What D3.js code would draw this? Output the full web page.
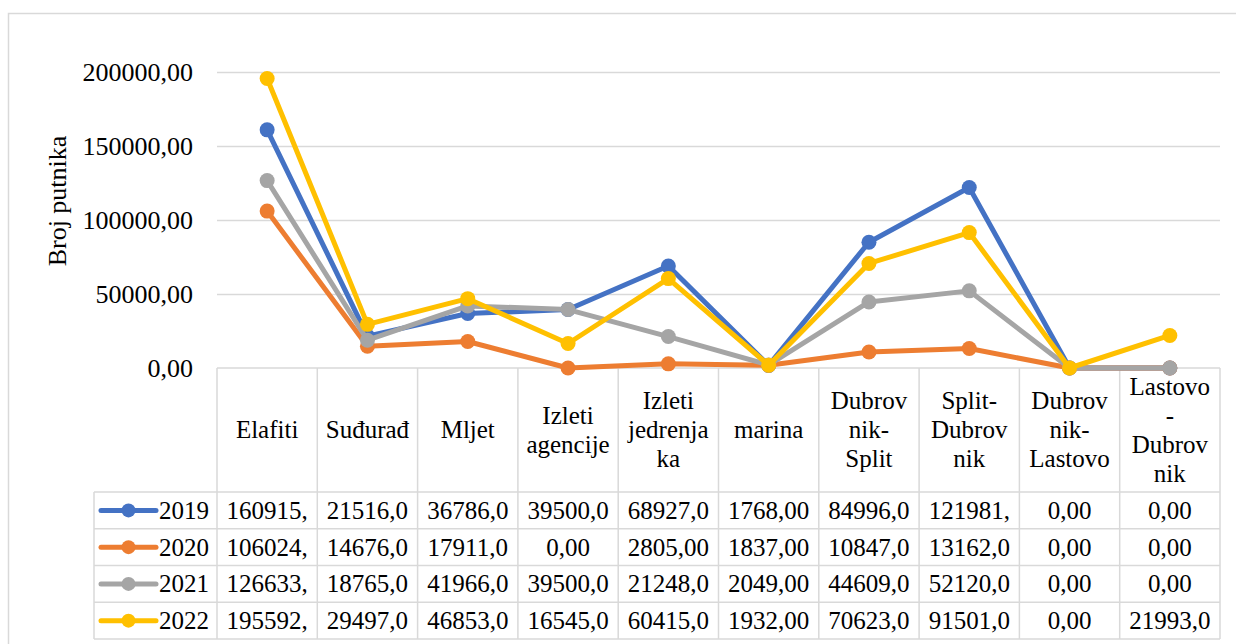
<!DOCTYPE html>
<html>
<head>
<meta charset="utf-8">
<script src="https://cdn.jsdelivr.net/npm/d3@7"></script>
<style>
  body { margin: 0; background: #fff; }
</style>
</head>
<body>
<div id="chart"></div>
<script>
// Data
const categories = ['Elafiti', 'Suđurađ', 'Mljet', 'Izleti agencije', 'Izleti jedrenjaka', 'marina',
    'Dubrovnik-Split', 'Split-Dubrovnik', 'Dubrovnik-Lastovo', 'Lastovo-Dubrovnik'];
const headerLines = [['Elafiti'], ['Suđurađ'], ['Mljet'], ['Izleti', 'agencije'], ['Izleti', 'jedrenja', 'ka'],
    ['marina'], ['Dubrov', 'nik-', 'Split'], ['Split-', 'Dubrov', 'nik'], ['Dubrov', 'nik-', 'Lastovo'],
    ['Lastovo', '-', 'Dubrov', 'nik']];
const years = ['2019', '2020', '2021', '2022'];
const values2019 = [160915, 21516, 36786, 39500, 68927, 1768, 84996, 121981, 0, 0];
const values2020 = [106024, 14676, 17911, 0, 2805, 1837, 10847, 13162, 0, 0];
const values2021 = [126633, 18765, 41966, 39500, 21248, 2049, 44609, 52120, 0, 0];
const values2022 = [195592, 29497, 46853, 16545, 60415, 1932, 70623, 91501, 0, 21993];
const yTicks = [0, 50000, 100000, 150000, 200000];
const colors = ['#4472C4', '#ED7D31', '#A5A5A5', '#FFC000'];

const series = years.map((y, i) => ({
    year: y,
    color: colors[i],
    values: [values2019, values2020, values2021, values2022][i]
}));

const W = 1236, H = 644;
const grid = '#D9D9D9';
const FONT = '"Liberation Serif"';
const fmt = v => d3.format('.2f')(v).replace('.', ',');

const svg = d3.select('#chart').append('svg')
    .attr('width', W)
    .attr('height', H);

// chart border
svg.append('rect')
    .attr('x', 8.5).attr('y', 13.5)
    .attr('width', 1300).attr('height', 700)
    .attr('fill', '#fff')
    .attr('stroke', grid)
    .attr('stroke-width', 1.5);

// Scales
const x = d3.scaleBand()
    .domain(categories)
    .range([217, 1220]);

const y = d3.scaleLinear()
    .domain([0, 200000])
    .range([368, 72]);

// Grid lines
svg.append('g')
    .attr('transform', `translate(${x.range()[0]},0)`)
    .call(d3.axisLeft(y)
        .tickValues(yTicks.filter(d => d > 0))
        .tickSize(-(x.range()[1] - x.range()[0]))
        .tickFormat(''))
    .call(g => g.select('.domain').remove())
    .selectAll('line')
    .attr('stroke', grid)
    .attr('stroke-width', 1.5);

// y axis labels
svg.append('g')
    .attr('transform', 'translate(193,0)')
    .call(d3.axisLeft(y)
        .tickValues(yTicks)
        .tickSize(0)
        .tickPadding(0)
        .tickFormat(fmt))
    .call(g => g.select('.domain').remove())
    .selectAll('text')
    .style('font-family', FONT)
    .style('font-size', '26px')
    .attr('fill', '#000');

// y axis title
svg.append('text')
    .attr('transform', 'translate(66,201) rotate(-90)')
    .attr('text-anchor', 'middle')
    .style('font-family', FONT)
    .style('font-size', '26px')
    .text('Broj putnika');

// Data table
const headerTop = 368, headerBottom = 492, tableBottom = 639;
const rowH = (tableBottom - headerBottom) / years.length;
const legendLeft = 94;
const table = svg.append('g');

// horizontal lines
table.append('line')
    .attr('x1', x.range()[0]).attr('x2', x.range()[1])
    .attr('y1', headerTop).attr('y2', headerTop);
d3.range(years.length + 1).forEach(i => {
    table.append('line')
        .attr('x1', legendLeft).attr('x2', x.range()[1])
        .attr('y1', headerBottom + i * rowH).attr('y2', headerBottom + i * rowH);
});
// vertical lines
categories.forEach(c => {
    table.append('line')
        .attr('x1', x(c)).attr('x2', x(c))
        .attr('y1', headerTop).attr('y2', tableBottom);
});
table.append('line')
    .attr('x1', x.range()[1]).attr('x2', x.range()[1])
    .attr('y1', headerTop).attr('y2', tableBottom);
table.append('line')
    .attr('x1', legendLeft).attr('x2', legendLeft)
    .attr('y1', headerBottom).attr('y2', tableBottom);
table.selectAll('line')
    .attr('stroke', grid)
    .attr('stroke-width', 1.5);

// header labels
const headerMid = (headerTop + headerBottom) / 2;
categories.forEach((c, i) => {
    const lines = headerLines[i];
    const t = table.append('text')
        .attr('text-anchor', 'middle')
        .style('font-family', FONT)
        .style('font-size', '25px');
    lines.forEach((l, k) => {
        t.append('tspan')
            .attr('x', x(c) + x.bandwidth() / 2)
            .attr('y', headerMid + 8 + (k - (lines.length - 1) / 2) * 29)
            .text(l);
    });
});

// values (truncated to cell width like Excel)
series.forEach((s, r) => {
    const cy = headerBottom + r * rowH + rowH / 2 + 8.5;
    s.values.forEach((v, i) => {
        const t = table.append('text')
            .attr('x', x(categories[i]) + x.bandwidth() / 2)
            .attr('y', cy)
            .attr('text-anchor', 'middle')
            .style('font-family', FONT)
            .style('font-size', '25px')
            .text(fmt(v));
        let str = fmt(v);
        while (t.node().getComputedTextLength() > x.bandwidth() - 14 && str.length > 1) {
            str = str.slice(0, -1);
            t.text(str);
        }
    });
    // legend key
    const ly = headerBottom + r * rowH + rowH / 2;
    table.append('line')
        .attr('x1', 101).attr('x2', 156)
        .attr('y1', ly).attr('y2', ly)
        .attr('stroke', s.color)
        .attr('stroke-width', 5)
        .attr('stroke-linecap', 'round');
    table.append('circle')
        .attr('cx', 128.5).attr('cy', ly).attr('r', 7)
        .attr('fill', s.color);
    table.append('text')
        .attr('x', 159)
        .attr('y', cy)
        .style('font-family', FONT)
        .style('font-size', '25px')
        .text(s.year);
});

// Lines
const line = d3.line()
    .x((d, i) => x(categories[i]) + x.bandwidth() / 2)
    .y(d => y(d));

series.forEach(s => {
    const g = svg.append('g');
    g.append('path')
        .datum(s.values)
        .attr('d', line)
        .attr('fill', 'none')
        .attr('stroke', s.color)
        .attr('stroke-width', 5)
        .attr('stroke-linejoin', 'round')
        .attr('stroke-linecap', 'round');
    g.selectAll('circle')
        .data(s.values)
        .enter()
        .append('circle')
        .attr('cx', (d, i) => x(categories[i]) + x.bandwidth() / 2)
        .attr('cy', d => y(d))
        .attr('r', 7.5)
        .attr('fill', s.color);
});
</script>
</body>
</html>
